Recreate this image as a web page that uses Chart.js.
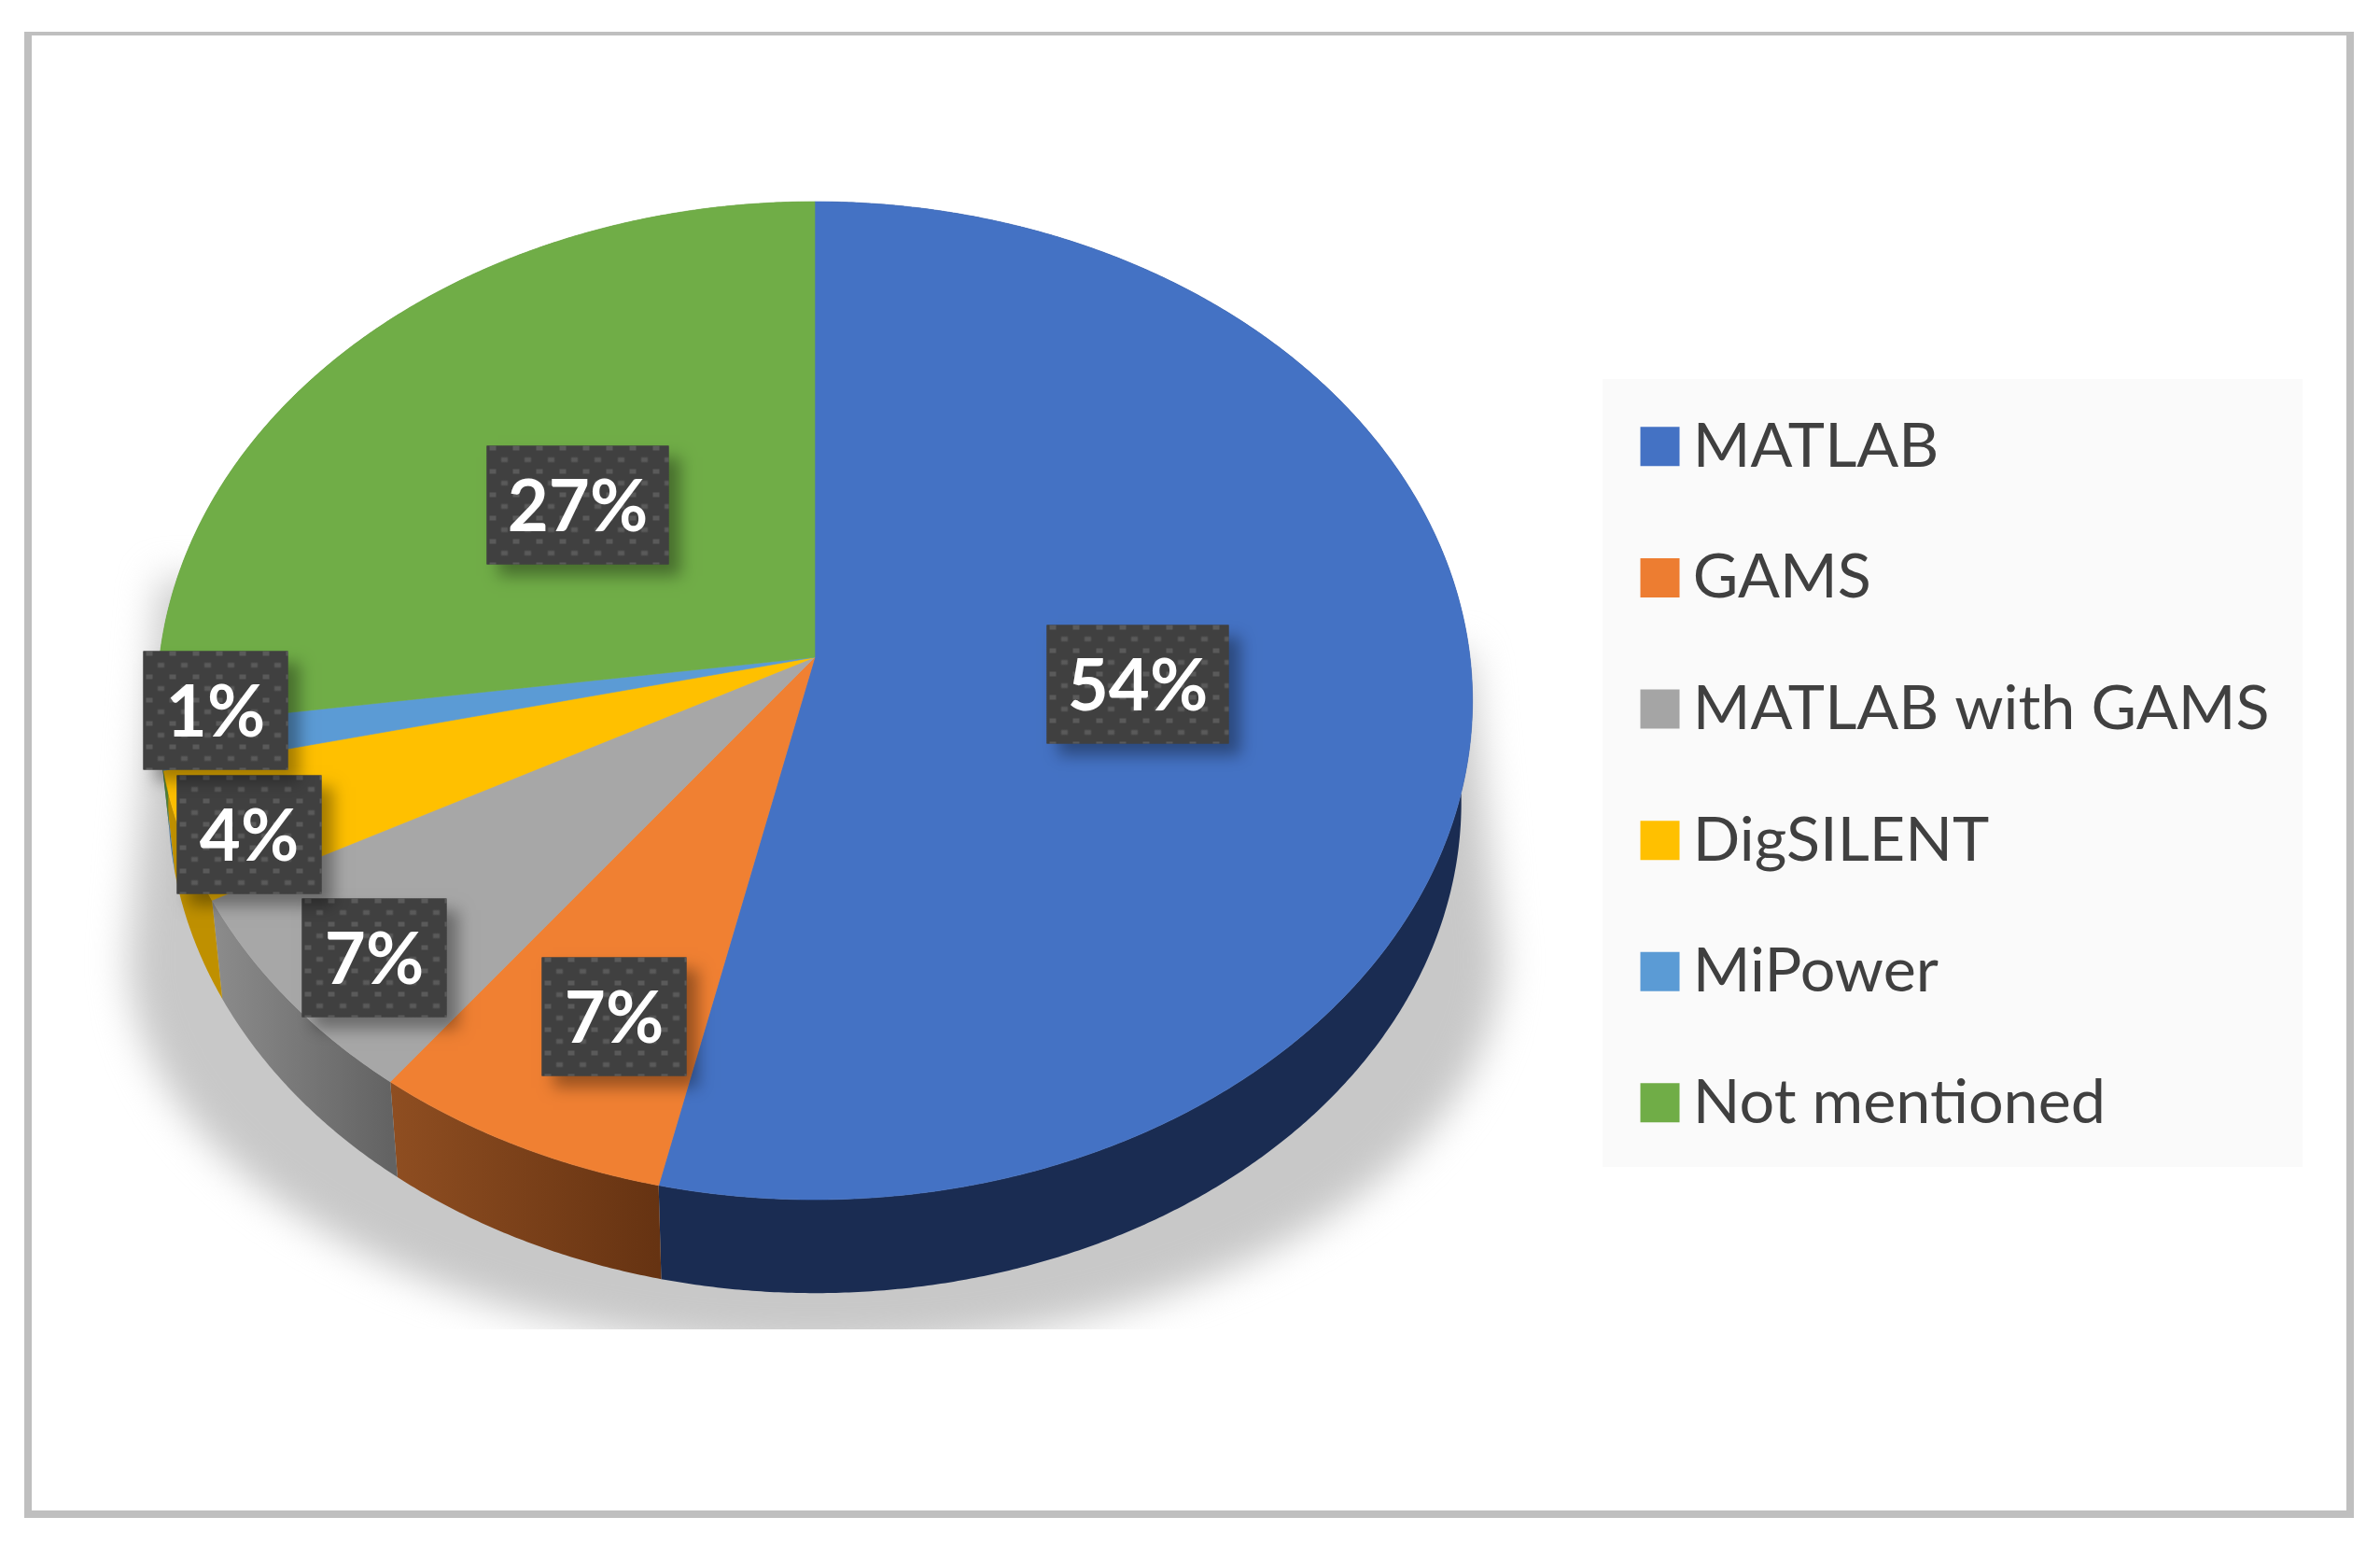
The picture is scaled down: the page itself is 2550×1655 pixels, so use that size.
<!DOCTYPE html>
<html><head><meta charset="utf-8">
<style>html,body{margin:0;padding:0;background:#fff}canvas{display:block}</style>
<script src="https://cdn.jsdelivr.net/npm/chart.js@4/dist/chart.umd.min.js"></script>
</head><body>
<div style="width:2550px;height:1655px;position:relative"><canvas id="c" width="2550" height="1655"></canvas></div>
<script>
const categories = ["MATLAB","GAMS","MATLAB with GAMS","DigSILENT","MiPower","Not mentioned"];
const shares = [53.5,6.8,6.9,4.2,1.4,27.2];
const faceColors = ["#4472C4","#F08032","#A7A7A7","#FFC000","#5B9BD5","#70AD47"];
const legendColors = ["#4472C4","#ED7D31","#A5A5A5","#FFC000","#5B9BD5","#70AD47"];
const wallColors = [["#1A2C52","#1A2C52"],["#8F4E21","#663312"],["#8C8C8C","#636363"],["#BF9000","#BF9000"],["#44749F","#44749F"],["#537F35","#537F35"]];

// layout of the tilted pie (screen pixels)
const P = {apexX:873, apexY:704, a:702, b:530.5, p:0.087, lowScale:0.983, lowDrop:110};
const labelCenters = [[1219,733],[658,1089],[401,1026],[267,894],[231,761],[619,541]];
const BOX_H = 127;

function project(u,v,low){
  const w = 1 - P.p*v, s = low ? P.lowScale : 1;
  return [P.apexX + s*P.a*u/w, P.apexY + s*P.b*v/w + (low ? P.lowDrop : 0)];
}
function rimPoints(el){
  const pts=[], n=Math.max(8,Math.ceil((el.endAngle-el.startAngle)*160));
  for(let i=0;i<=n;i++){
    const t=el.startAngle+(el.endAngle-el.startAngle)*i/n;
    pts.push([Math.cos(t),Math.sin(t)]);
  }
  return pts;
}
function trace(ctx,pts){pts.forEach((q,i)=>i?ctx.lineTo(q[0],q[1]):ctx.moveTo(q[0],q[1]));}
function trace2(ctx,pts){pts.forEach(q=>ctx.lineTo(q[0],q[1]));}

function dotPattern(ctx){
  const t=document.createElement('canvas');t.width=25;t.height=25;
  const g=t.getContext('2d');g.fillStyle='#404040';g.fillRect(0,0,25,25);
  g.fillStyle='#5A5A5A';g.fillRect(3,0,7,5);g.fillRect(15.5,12.5,7,5);
  return ctx.createPattern(t,'repeat');
}

const tiltedPie = {
  id:'tiltedPie',
  beforeDraw(chart){
    const ctx=chart.ctx;
    ctx.save();
    ctx.fillStyle='#fff';ctx.fillRect(0,0,2550,1655);
    ctx.fillStyle='#BFBFBF';
    ctx.fillRect(26,34,2496,4);ctx.fillRect(26,1618,2496,8);
    ctx.fillRect(26,34,8,1592);ctx.fillRect(2514,34,8,1592);
    ctx.fillStyle='#FAFAFA';ctx.fillRect(1717,406,750,844);
    ctx.restore();
  },
  beforeDatasetsDraw(chart){
    const ctx=chart.ctx, arcs=chart.getDatasetMeta(0).data;
    // cast shadow
    ctx.save();
    ctx.beginPath();ctx.rect(60,500,1660,924);ctx.clip();
    ctx.filter='blur(20px)';
    ctx.fillStyle='#C8C8C8';
    ctx.beginPath();
    ctx.moveTo(172,620);ctx.lineTo(138,1025);
    ctx.ellipse(873,1025,735,420,0,Math.PI,0,true);
    ctx.lineTo(1574,700);ctx.closePath();ctx.fill();
    ctx.restore();
    // walls
    arcs.forEach((el,i)=>{
      const rim=rimPoints(el);
      const top=rim.map(q=>project(q[0],q[1],false));
      const low=rim.map(q=>project(q[0],q[1],true)).reverse();
      const xs=top.map(q=>q[0]);
      const gr=ctx.createLinearGradient(Math.min(...xs),0,Math.max(...xs),0);
      gr.addColorStop(0,wallColors[i][0]);gr.addColorStop(1,wallColors[i][1]);
      ctx.fillStyle=gr;
      ctx.beginPath();trace(ctx,top.concat(low));ctx.closePath();ctx.fill();
    });
    // top faces
    arcs.forEach((el,i)=>{
      const top=rimPoints(el).map(q=>project(q[0],q[1],false));
      ctx.fillStyle=faceColors[i];ctx.strokeStyle=faceColors[i];ctx.lineWidth=0.6;
      ctx.beginPath();ctx.moveTo(P.apexX,P.apexY);trace2(ctx,top);ctx.closePath();ctx.fill();ctx.stroke();
    });
    return false;
  },
  afterDraw(chart){
    const ctx=chart.ctx, pat=dotPattern(ctx);
    shares.forEach((val,i)=>{
      const text=Math.round(val)+'%', boxW=text.length>2?195:155;
      const [cx,cy]=labelCenters[i], x=cx-boxW/2, y=cy-BOX_H/2;
      ctx.save();
      ctx.shadowColor='rgba(0,0,0,0.36)';ctx.shadowBlur=16;ctx.shadowOffsetX=12;ctx.shadowOffsetY=12;
      ctx.fillStyle='#404040';ctx.fillRect(x,y,boxW,BOX_H);
      ctx.restore();
      ctx.save();ctx.translate(x,y);ctx.fillStyle=pat;ctx.fillRect(0,0,boxW,BOX_H);ctx.restore();
      ctx.save();
      ctx.fillStyle='#fff';ctx.font='bold 76px Lato';ctx.textAlign='center';ctx.textBaseline='middle';
      ctx.fillText(text,cx,cy+3);
      ctx.restore();
    });
  }
};

new Chart(document.getElementById('c'),{
  type:'pie',
  data:{labels:categories,datasets:[{data:shares,backgroundColor:legendColors,borderWidth:0}]},
  plugins:[tiltedPie],
  options:{
    responsive:false,animation:false,
    layout:{padding:{top:371,right:108.5}},
    plugins:{
      tooltip:{enabled:false},
      legend:{
        position:'right',align:'start',
        labels:{usePointStyle:true,pointStyle:'rect',boxWidth:4,boxHeight:42,
          font:{family:'Lato',size:66.5},color:'#404040',padding:74.1}
      }
    }
  }
});
</script>
</body></html>
